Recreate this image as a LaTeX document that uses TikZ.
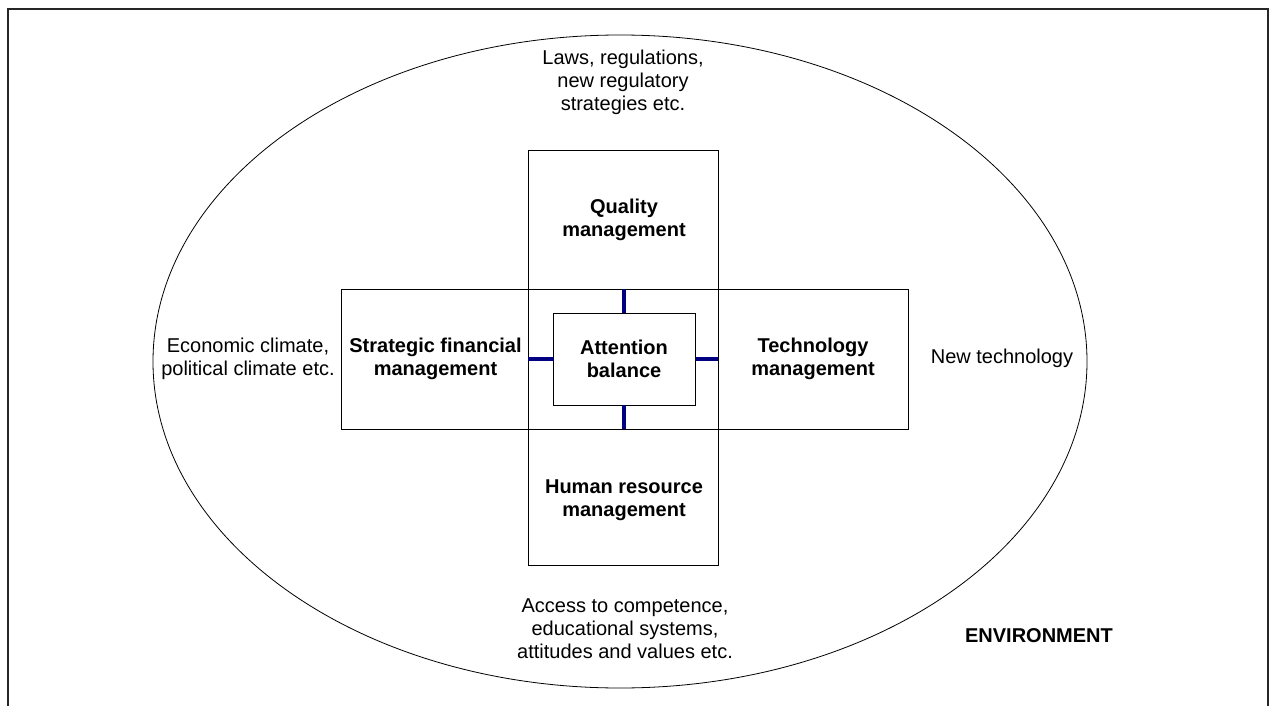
\documentclass[tikz,border=0pt]{standalone}
\usepackage{fontspec}
\setmainfont{Liberation Sans}
\usetikzlibrary{shapes.geometric}
\definecolor{tickblue}{RGB}{0,0,128}
\begin{document}
\begin{tikzpicture}[x=1pt,y=-1pt,
  box/.style={draw=black,line width=0.9pt,rectangle,inner sep=0pt},
  lbl/.style={align=center,font=\fontsize{20}{23}\selectfont,text=black,inner sep=0pt},
  blbl/.style={lbl,font=\fontsize{20}{23}\selectfont\bfseries},
  tick/.style={draw=tickblue,line width=3.2pt}]
\clip (0,0) rectangle (1270,706);
\fill[white] (0,0) rectangle (1270,706);
% outer frame (bottom edge lies outside the picture)
\draw[line width=1.6pt,black!85] (8,760) -- (8,9) -- (1268,9) -- (1268,760);
% environment ellipse
\node[draw=black,line width=0.8pt,ellipse,minimum width=934pt,minimum height=653pt,inner sep=0pt] (env) at (620,361.5) {};
% boxes
\node[box,minimum width=190pt,minimum height=415pt] (vbox) at (623,357.5) {};
\node[box,minimum width=567pt,minimum height=140pt] (hbox) at (624.5,359) {};
\node[box,fill=white,minimum width=142pt,minimum height=92pt] (inner) at (624,359) {};
% ticks
\draw[tick] (inner.north) -- (inner.north |- hbox.north);
\draw[tick] (inner.south) -- (inner.south |- hbox.south);
\draw[tick] (inner.west) -- (vbox.west |- inner.west);
\draw[tick] (inner.east) -- (vbox.east |- inner.east);
% labels
\node[blbl] (att) at (624,359) {Attention\\balance};
\node[blbl] (qm) at (624,220) {Quality\\management};
\node[blbl] (sfm) at (435.5,359) {Strategic financial\\management};
\node[blbl] (tm) at (813,359) {Technology\\management};
\node[blbl] (hrm) at (624,500) {Human resource\\management};
\node[lbl] (laws) at (623,82) {Laws, regulations,\\new regulatory\\strategies etc.};
\node[lbl] (econ) at (248,359) {Economic climate,\\political climate etc.};
\node[lbl] (newt) at (1002,358) {New technology};
\node[lbl] (acc) at (625,629) {Access to competence,\\educational systems,\\attitudes and values etc.};
\node[blbl] (envl) at (1039,636) {ENVIRONMENT};
\end{tikzpicture}
\end{document}
